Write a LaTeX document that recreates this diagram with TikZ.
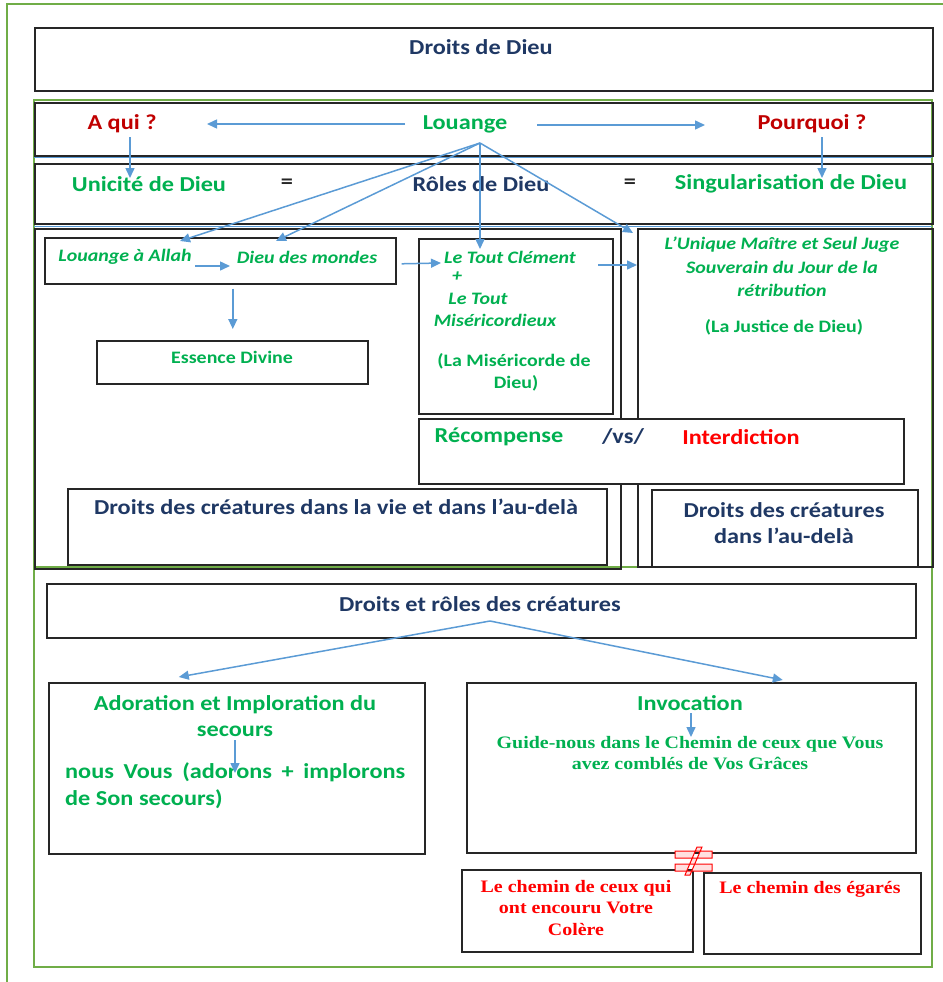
\documentclass[tikz,border=0pt]{standalone}
\usepackage{fontspec}
\setmainfont[FakeStretch=1.14]{Carlito}
\newfontfamily\timesb[FakeStretch=1.14]{Liberation Serif}
\usetikzlibrary{arrows.meta,calc}
\definecolor{navy}{RGB}{31,56,100}
\definecolor{vert}{RGB}{0,176,80}
\definecolor{rougef}{RGB}{192,0,0}
\definecolor{rouge}{RGB}{255,0,0}
\definecolor{fleche}{RGB}{91,155,213}
\definecolor{cadrevert}{RGB}{112,173,71}
\begin{document}
\begin{tikzpicture}[
    x=1pt, y=-1pt,
    boite/.style 2 args={draw=black!85, line width=1.6pt, anchor=north west,
        inner sep=0pt, minimum width=#1, minimum height=#2},
    grand/.style={inner sep=0pt, font=\fontsize{21.3}{26}\selectfont\bfseries, align=center},
    petit/.style={inner sep=0pt, font=\fontsize{17.5}{21}\selectfont\bfseries, align=center},
    petitit/.style={petit, font=\fontsize{17.5}{23.5}\selectfont\bfseries\itshape},
    serif/.style={inner sep=0pt, font=\timesb\fontsize{17.5}{20.5}\selectfont\bfseries, align=center},
    fl/.style={draw=fleche, line width=1.5pt, -{Triangle[length=10pt,width=9pt]}},
    vertcadre/.style={draw=cadrevert, line width=1.3pt}
]
\useasboundingbox (0,0) rectangle (942,982);
% cadres verts
\draw[vertcadre] (7,4) rectangle (990,1030);
\draw[vertcadre] (34,100) rectangle (932,567);
\draw[vertcadre] (34,567) rectangle (932,967);

% haut
\node[boite={898pt}{63pt}] (bDieu) at (34,27) {};
\node[boite={898pt}{53pt}] (bLouange) at (34,102) {};
\node[boite={898pt}{60pt}] (bUnicite) at (34,163) {};
\draw[fleche, line width=0.8pt] (34,157) -- (932,157);
\draw[fleche, line width=0.8pt] (34,226) -- (932,226);

% milieu
\node[boite={586pt}{340pt}] (bGauche) at (34,228) {};
\node[boite={351pt}{46pt}] (bAllah) at (44,237) {};
\node[boite={271pt}{43pt}] (bEssence) at (96,340) {};
\node[boite={539pt}{76pt}] (bVie) at (67,488) {};
\node[boite={194pt}{175pt}] (bClement) at (418,238) {};
\node[boite={295pt}{338pt}] (bJuge) at (637,228) {};
\node[boite={485pt}{65pt}, fill=white] (bRecomp) at (418,418) {};
\node[boite={266pt}{77pt}] (bAudela) at (651,489) {};

% bas
\node[boite={869pt}{54pt}] (bCreat) at (46,583) {};
\node[boite={376pt}{171pt}] (bAdor) at (48,682) {};
\node[boite={449pt}{170pt}] (bInvoc) at (466,682) {};
\node[boite={231pt}{82pt}] (bColere) at (461,869) {};
\node[boite={217pt}{81pt}] (bEgares) at (703,872) {};

% textes
\node[grand, text=navy] (tDieu) at (481,47) {Droits de Dieu};
\node[grand, text=rougef] (tAqui) at (122,124) {A qui ?};
\node[grand, text=vert] (tLouange) at (465,124) {Louange};
\node[grand, text=rougef] (tPourquoi) at (812,124) {Pourquoi ?};
\node[grand, text=vert] (tUnicite) at (149,184) {Unicité de Dieu};
\node[grand, text=black!85] (tEg1) at (287,184) {=};
\node[grand, text=navy] (tRoles) at (481,184) {Rôles de Dieu};
\node[grand, text=black!85] (tEg2) at (630,184) {=};
\node[grand, text=vert] (tSingul) at (791,184) {Singularisation de Dieu};

\node[petitit, text=vert] (tAllah) at (125,257) {Louange à Allah};
\node[petitit, text=vert] (tMondes) at (307,257) {Dieu des mondes};
\node[petit, text=vert] (tEssence) at (232,357) {Essence Divine};
\node[petitit, text=vert] (tClement) at (510,257) {Le Tout Clément};
\node[petitit, text=vert] (tPlus) at (457,277) {+};
\node[petitit, text=vert] (tTout) at (478,299) {Le Tout};
\node[petitit, text=vert] (tMiseric) at (495,320) {Miséricordieux};
\node[petit, text=vert] (tMisericorde) at (514,361) {(La Miséricorde de};
\node[petit, text=vert] (tDieuM) at (516,383) {Dieu)};
\node[petitit, text=vert] (tJuge) at (782,267)
    {L’Unique Maître et Seul Juge\\Souverain du Jour de la\\rétribution};
\node[petit, text=vert] (tJustice) at (784,327) {(La Justice de Dieu)};

\node[grand, text=vert] (tRecomp) at (499,437) {Récompense};
\node[grand, text=navy] (tVs) at (623,437) {/vs/};
\node[grand, text=rouge] (tInterd) at (741,437) {Interdiction};
\node[grand, text=navy] (tVie) at (336,507) {Droits des créatures dans la vie et dans l’au-delà};
\node[grand, text=navy] (tAudela) at (784,523) {Droits des créatures\\dans l’au-delà};

\node[grand, text=navy] (tCreat) at (480,604) {Droits et rôles des créatures};
\node[grand, text=vert] (tAdor) at (235,716) {Adoration et Imploration du\\secours};
\node[grand, text=vert, anchor=west, align=left, font=\fontsize{21.3}{27}\selectfont\bfseries]
    (tNous) at (65,786) {\makebox[340pt][s]{nous Vous (adorons + implorons}\\de Son secours)};
\node[grand, text=vert] (tInvoc) at (690,703) {Invocation};
\node[serif, text=vert] (tGuide) at (690,753)
    {Guide-nous dans le Chemin de ceux que Vous\\avez comblés de Vos Grâces};
\node[serif, text=rouge, font=\timesb\fontsize{17.5}{21.5}\selectfont\bfseries] (tColere) at (576,908)
    {Le chemin de ceux qui\\ont encouru Votre\\Colère};
\node[serif, text=rouge] (tEgares) at (810,889) {Le chemin des égarés};

% signe different
\filldraw[draw=rouge, fill=rouge!12, line width=1pt]
    (675,851) rectangle (712,858) (675,864) rectangle (712,871)
    (697,847) -- (702,847) -- (690,875) -- (685,875) -- cycle;

% fleches
\coordinate (src) at ($(tLouange)+(15,19)$);
\coordinate (src2) at ($(tCreat)+(10,17)$);
\draw[fl] ($(tLouange)+(-60,0)$) -- ($(tAqui)+(85,0)$);
\draw[fl] ($(tLouange)+(72,1)$) -- ($(tPourquoi)+(-107,1)$);
\draw[fl] ($(tAqui)+(8,13)$) -- ($(tUnicite)+(-19,-6)$);
\draw[fl] ($(tPourquoi)+(10,13)$) -- ($(tSingul)+(31,-6)$);
\draw[fl] (src) -- ($(tAllah)+(55,-16)$);
\draw[fl] (src) -- ($(tMondes)+(-31,-16)$);
\draw[fl] (src) -- ($(tClement)+(-30,-8)$);
\draw[fl] (src) -- ($(tJuge)+(-149,-34)$);
\draw[fl] ($(tAllah)+(70,9)$) -- ($(tMondes)+(-77,9)$);
\draw[fl] ($(bAllah.east)+(5,3)$) -- ($(tClement)+(-69,6)$);
\draw[fl] ($(tClement)+(88,8)$) -- ($(tClement)+(127,8)$);
\draw[fl] ($(bAllah.south)+(12.5,4)$) -- ($(bEssence.north)+(0.5,-11)$);
\draw[fl] (src2) -- ($(bAdor.north)+(-58,-5)$);
\draw[fl] (src2) -- ($(bInvoc.north)+(91.5,-2)$);
\draw[fl] ($(tAdor)+(0,24)$) -- ($(tNous.west)+(170,-13)$);
\draw[fl] ($(tInvoc)+(1,10)$) -- ($(tGuide)+(1,-16)$);
\end{tikzpicture}
\end{document}
